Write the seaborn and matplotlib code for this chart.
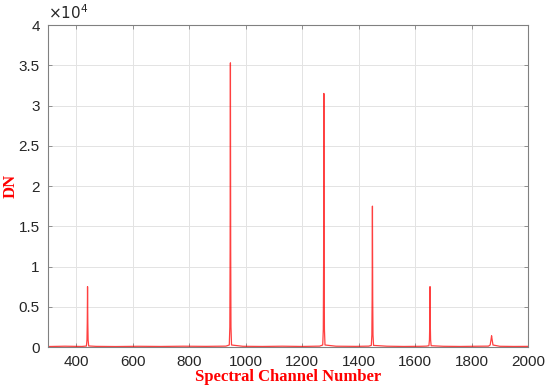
import matplotlib
matplotlib.use("Agg")
import matplotlib.pyplot as plt
import seaborn as sns
import pandas as pd
from matplotlib.ticker import FuncFormatter

# Spectrum sample points (channel, DN)
channel = [300, 360, 420, 436, 438, 439, 440, 441, 442, 444, 470, 540, 620, 700, 780, 860, 930,
           942, 944, 945, 946, 947, 948, 950, 990, 1060, 1130, 1200, 1262,
           1273, 1275, 1276, 1277, 1278, 1279, 1281, 1320, 1390, 1436,
           1445, 1447, 1448, 1449, 1450, 1451, 1453, 1500, 1560, 1620, 1640,
           1649, 1651, 1652, 1653, 1654, 1655, 1657, 1700, 1760, 1830, 1860,
           1866, 1869, 1871, 1873, 1876, 1900, 1950, 2000]
dn = [60, 100, 70, 120, 900, 3000, 7500, 3000, 900, 130, 80, 60, 90, 70, 100, 80, 110,
      250, 2500, 12000, 35300, 12000, 2500, 250, 90, 70, 100, 70, 110,
      250, 2200, 10000, 31500, 10000, 2200, 250, 100, 80, 110,
      200, 1500, 6000, 17500, 6000, 1500, 200, 100, 70, 90, 110,
      160, 900, 2800, 7500, 2800, 900, 160, 90, 70, 100, 110,
      250, 900, 1400, 900, 250, 90, 70, 80]

yticks = [0, 5000, 10000, 15000, 20000, 25000, 30000, 35000, 40000]
xticks = [400, 600, 800, 1000, 1200, 1400, 1600, 1800, 2000]

df = pd.DataFrame({"channel": channel, "DN": dn})

sns.set_theme(style="ticks")
plt.rcParams["font.family"] = ["Liberation Sans", "DejaVu Sans"]

fig = plt.figure(figsize=(5.5, 3.91), dpi=100)
ax = fig.add_axes([0.0873, 0.1125, 0.8727, 0.8235])

sns.lineplot(data=df, x="channel", y="DN", ax=ax, color="#ff0000", lw=0.9, alpha=0.75)

ax.set_xlim(300, 2000)
ax.set_ylim(0, 40000)
ax.set_xticks(xticks)
ax.set_yticks(yticks)
ax.yaxis.set_major_formatter(FuncFormatter(lambda v, p: "%g" % (v / 1e4)))
ax.grid(True, color="#e3e3e3", lw=0.7)
ax.set_axisbelow(True)
for s in ax.spines.values():
    s.set_color("#808080")
    s.set_linewidth(0.8)
ax.tick_params(direction="in", length=3, width=0.6, color="#808080",
               top=True, right=True, labelsize=11, labelcolor="#262626", pad=6)

ax.set_xlabel("Spectral Channel Number", fontfamily="Liberation Serif", fontweight="bold",
              color="#ff0000", fontsize=12, labelpad=0)
ax.set_ylabel("DN", fontfamily="Liberation Serif", fontweight="bold",
              color="#ff0000", fontsize=12)
ax.yaxis.set_label_coords(-0.062, 0.5)
ax.text(0.0, 1.01, r"$\times10^{4}$", transform=ax.transAxes, fontsize=11,
        color="#262626", ha="left", va="bottom")

fig.savefig("out.png", dpi=100)
